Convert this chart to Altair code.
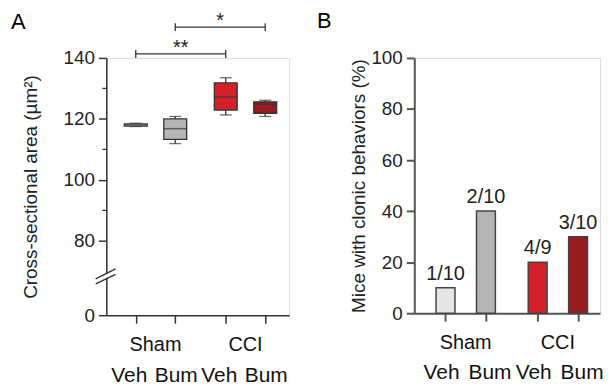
import altair as alt
import pandas as pd

# ---------------- data ----------------
groups = ["Sham", "Sham", "CCI", "CCI"]
treatments = ["Veh", "Bum", "Veh", "Bum"]
conditions = ["Sham Veh", "Sham Bum", "CCI Veh", "CCI Bum"]

# Panel A: box statistics of cross-sectional area (µm²)
area_min = [117.5, 111.9, 121.3, 120.8]
area_q1 = [117.6, 113.3, 122.9, 121.8]
area_med = [118.0, 116.8, 127.2, 124.8]
area_q3 = [118.4, 120.0, 131.8, 125.6]
area_max = [118.6, 120.8, 133.5, 126.1]

# significance comparisons
comp_from = ["Sham Veh", "Sham Bum"]
comp_to = ["CCI Veh", "CCI Bum"]
comp_stars = ["**", "*"]
comp_level = [141.3, 150.1]

# Panel B: mice with clonic behaviours
clonic_pct = [10, 40, 20, 30]
clonic_frac = ["1/10", "2/10", "4/9", "3/10"]

y_ticks_A = [80, 100, 120, 140]
y_minor_A = [90, 110, 130]
y_ticks_B = [0, 20, 40, 60, 80, 100]

# ---------------- styles / layout ----------------
fill_colors = ["#e6e6e6", "#b5b5b5", "#d3202a", "#971b20"]
INK = "#333333"
GROUP_GAP = 1.28
BREAK_LOW = 55.6  # value standing in for "0" below the axis break

idx_t = [0 if t == "Veh" else 1 for t in treatments]
idx_g = [0 if g == "Sham" else 1 for g in groups]
pos = [t + g * (1 + GROUP_GAP) for t, g in zip(idx_t, idx_g)]

df = pd.DataFrame({
    "cond": conditions, "group": groups, "treat": treatments, "pos": pos,
    "min": area_min, "q1": area_q1, "med": area_med, "q3": area_q3, "max": area_max,
    "pct": clonic_pct, "frac": clonic_frac,
})
grp = df.groupby("group", sort=False)["pos"].mean().reset_index()

pos_of = dict(zip(conditions, pos))
comp = pd.DataFrame({
    "x1": [pos_of[c] for c in comp_from],
    "x2": [pos_of[c] for c in comp_to],
    "y": comp_level,
    "stars": comp_stars,
})
comp["xm"] = (comp["x1"] + comp["x2"]) / 2
comp["ylo"] = comp["y"] - 1.3
comp["yhi"] = comp["y"] + 1.3
caps = pd.concat([
    comp[["x1", "ylo", "yhi"]].rename(columns={"x1": "x"}),
    comp[["x2", "ylo", "yhi"]].rename(columns={"x2": "x"}),
])

fill_scale = alt.Scale(domain=conditions, range=fill_colors)

WA, HA = 184, 259
WB, HB = 187, 257
FS_TICK = 19
FS_X = 21
FS_GRP = 20


def treat_labels(data, y_px, dx_veh, dx_bum):
    out = []
    for name, dx in (("Veh", dx_veh), ("Bum", dx_bum)):
        out.append(
            alt.Chart(data).transform_filter(alt.datum.treat == name)
            .mark_text(fontSize=FS_X, color="#111", baseline="alphabetic", dx=dx)
            .encode(x="pos:Q", y=alt.value(y_px), text="treat:N"))
    return out


# ---------------- Panel A ----------------
xA = alt.X("pos:Q", scale=alt.Scale(domain=[-0.62, 3.76], nice=False, zero=False),
           axis=alt.Axis(values=pos, labels=False, title=None, grid=False, tickSize=8,
                         tickColor=INK, tickWidth=1.5, domainColor=INK, domainWidth=1.5))
yA_scale = alt.Scale(domain=[BREAK_LOW, 140], nice=False, zero=False)
yA = alt.Y("min:Q", scale=yA_scale,
           axis=alt.Axis(values=[BREAK_LOW] + y_ticks_A,
                         labelExpr="datum.value < 60 ? '0' : datum.label",
                         title="Cross-sectional area (µm²)", titleFontSize=19,
                         titleFontWeight="normal", titleColor="#222", titlePadding=23,
                         labelFontSize=FS_TICK, labelColor="#222", labelPadding=4,
                         grid=False, tickSize=8, tickColor=INK, tickWidth=1.5,
                         domainColor=INK, domainWidth=1.5))

base = alt.Chart(df)
whisk = base.mark_rule(color=INK, strokeWidth=1.3).encode(x=xA, y=yA, y2="max:Q")
capA = (base.mark_tick(orient="horizontal", size=12, thickness=1.3, color=INK)
        .encode(x="pos:Q", y="min:Q"))
capB = (base.mark_tick(orient="horizontal", size=12, thickness=1.3, color=INK)
        .encode(x="pos:Q", y="max:Q"))
box = (base.mark_bar(size=23, stroke=INK, strokeWidth=1.3)
       .encode(x="pos:Q", y="q1:Q", y2="q3:Q",
               fill=alt.Fill("cond:N", scale=fill_scale, legend=None)))
med = (base.mark_tick(orient="horizontal", size=23, thickness=1.5, color=INK)
       .encode(x="pos:Q", y="med:Q"))

minor = (alt.Chart(pd.DataFrame({"v": y_minor_A}))
         .mark_rule(color=INK, strokeWidth=1.3)
         .encode(x=alt.value(-4), x2=alt.value(0), y="v:Q"))

brk = pd.DataFrame({"ya": [66.7, 65.9, 67.55], "yb": [69.9, 68.96, 70.8],
                    "k": ["mask", "s", "s"]})
brk_mask = (alt.Chart(brk[brk.k == "mask"]).mark_rule(color="white", strokeWidth=3.5)
            .encode(x=alt.value(-10.7), x2=alt.value(9.3), y="ya:Q", y2="yb:Q"))
brk_lines = (alt.Chart(brk[brk.k == "s"]).mark_rule(color=INK, strokeWidth=1.4)
             .encode(x=alt.value(-10.7), x2=alt.value(9.3), y="ya:Q", y2="yb:Q"))

br_line = (alt.Chart(comp).mark_rule(color=INK, strokeWidth=1.3)
           .encode(x="x1:Q", x2="x2:Q", y="y:Q"))
br_caps = (alt.Chart(caps).mark_rule(color=INK, strokeWidth=1.3)
           .encode(x="x:Q", y="ylo:Q", y2="yhi:Q"))
br_text = (alt.Chart(comp).mark_text(fontSize=20, color="#222", baseline="alphabetic", dy=0)
           .encode(x="xm:Q", y="y:Q", text="stars:N"))

grpA = (alt.Chart(grp).mark_text(fontSize=FS_GRP, color="#111", baseline="alphabetic")
        .encode(x="pos:Q", y=alt.value(HA + 36), text="group:N"))
labA = (alt.Chart(pd.DataFrame({"t": ["A"]}))
        .mark_text(fontSize=22, color="#000", align="left", baseline="alphabetic")
        .encode(x=alt.value(-96), y=alt.value(-29), text="t:N"))

panelA = alt.layer(whisk, capA, capB, box, med, minor, brk_mask, brk_lines,
                   br_line, br_caps, br_text, *treat_labels(df, HA + 67.5, -6.5, 1),
                   grpA, labA).properties(width=WA, height=HA)

# ---------------- Panel B ----------------
BINK = "#555555"
xB = alt.X("pos:Q", scale=alt.Scale(domain=[-0.65, 3.70], nice=False, zero=False),
           axis=alt.Axis(values=pos, labels=False, title=None, grid=False, tickSize=8,
                         tickColor=BINK, tickWidth=2, domainColor=BINK, domainWidth=2))
yB = alt.Y("pct:Q", scale=alt.Scale(domain=[0, 100], nice=False),
           axis=alt.Axis(values=y_ticks_B, title="Mice with clonic behaviors (%)",
                         titleFontSize=19, titleFontWeight="normal", titleColor="#222",
                         titlePadding=2, labelFontSize=FS_TICK, labelColor="#222",
                         labelPadding=4, grid=False, tickSize=8, tickColor=BINK,
                         tickWidth=2, domainColor=BINK, domainWidth=2))
baseB = alt.Chart(df)
bars = (baseB.mark_bar(size=19, stroke="#444", strokeWidth=1.5)
        .encode(x=xB, y=yB, fill=alt.Fill("cond:N", scale=fill_scale, legend=None)))
vals = (baseB.mark_text(fontSize=20, color="#222", baseline="alphabetic", dy=-8)
        .encode(x="pos:Q", y="pct:Q", text="frac:N"))
grpB = (alt.Chart(grp).mark_text(fontSize=FS_GRP, color="#111", baseline="alphabetic")
        .encode(x="pos:Q", y=alt.value(HB + 36), text="group:N"))
labB = (alt.Chart(pd.DataFrame({"t": ["B"]}))
        .mark_text(fontSize=22, color="#000", align="left", baseline="alphabetic")
        .encode(x=alt.value(-98), y=alt.value(-30), text="t:N"))

panelB = alt.layer(bars, vals, *treat_labels(df, HB + 66, -4, 4),
                   grpB, labB).properties(width=WB, height=HB)

chart = (alt.hconcat(panelA, panelB, spacing=126, bounds="flush")
         .properties(padding={"left": 2, "top": 0, "right": 0, "bottom": 0})
         .configure_view(stroke=None)
         .configure(font="Liberation Sans"))

chart.save("out.html", embed_options={"renderer": "svg", "actions": False})
